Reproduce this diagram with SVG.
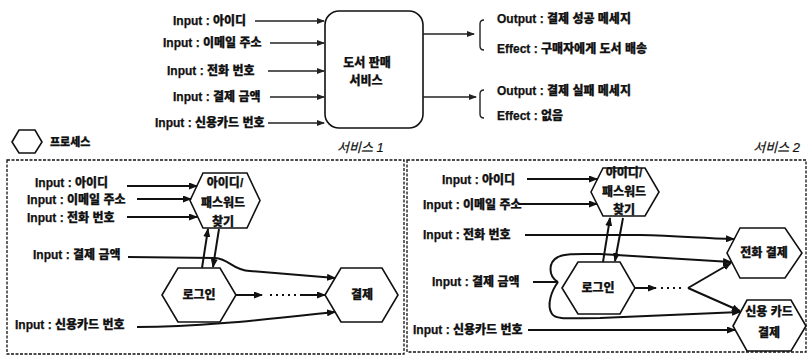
<svg xmlns="http://www.w3.org/2000/svg" width="808" height="357" viewBox="0 0 808 357">
<style>
text{font-family:"Liberation Sans","Noto Sans CJK KR",sans-serif;font-weight:900;font-size:12px;fill:#111;stroke:#111;stroke-width:0.25}
.c{text-anchor:middle}
.it{font-style:italic;font-weight:normal;font-size:13px;stroke-width:0.2}
.hex{fill:#fff;stroke:#111;stroke-width:1.6}
.box{fill:#fff;stroke:#111;stroke-width:1.6}
.dash{fill:none;stroke:#111;stroke-width:1.3;stroke-dasharray:3 1.5}
.a1{fill:none;stroke:#222;stroke-width:1.4;marker-end:url(#ah1)}
.a2{fill:none;stroke:#111;stroke-width:2;marker-end:url(#ah2)}
.ln{fill:none;stroke:#111;stroke-width:2}
.dots{fill:none;stroke:#111;stroke-width:2;stroke-dasharray:2 4}
.br{fill:none;stroke:#222;stroke-width:1.4}
</style>
<defs>
<marker id="ah1" markerUnits="userSpaceOnUse" markerWidth="8" markerHeight="6" refX="7" refY="3" orient="auto"><path d="M0,0 L8,3 L0,6 z" fill="#222"/></marker>
<marker id="ah2" markerUnits="userSpaceOnUse" markerWidth="9" markerHeight="7" refX="8" refY="3.5" orient="auto"><path d="M0,0 L9,3.5 L0,7 z" fill="#111"/></marker>
</defs>
<rect width="808" height="357" fill="#fff"/>

<!-- top section -->
<g id="top-inputs">
<text x="173" y="25">Input : 아이디</text>
<text x="163" y="47">Input : 이메일 주소</text>
<text x="167" y="75">Input : 전화 번호</text>
<text x="173" y="101">Input : 결제 금액</text>
<text x="155" y="127">Input : 신용카드 번호</text>
</g>
<g id="service">
<rect class="box" x="325" y="11" width="98" height="117" rx="14"/>
<text class="c" x="367" y="67">도서 판매</text>
<text class="c" x="366" y="85">서비스</text>
</g>
<g id="outputs">
<path class="br" d="M484,20 Q480,20 480,24 L480,46 Q480,50 484,50"/>
<path class="br" d="M484,90 Q480,90 480,94 L480,114 Q480,118 484,118"/>
<text x="497" y="23">Output : 결제 성공 메세지</text>
<text x="497" y="53">Effect : 구매자에게 도서 배송</text>
<text x="497" y="95">Output : 결제 실패 메세지</text>
<text x="497" y="120">Effect : 없음</text>
</g>

<!-- legend and titles -->
<g id="legend">
<polygon class="hex" points="12,142 19,130 35,130 42,142 35,153 19,153"/>
<text x="50" y="146" style="font-size:11px">프로세스</text>
</g>
<text class="it" x="337" y="152">서비스 1</text>
<text class="it" x="800" y="152" text-anchor="end">서비스  2</text>

<rect class="dash" x="7" y="160" width="397" height="194"/>
<rect class="dash" x="407" y="160" width="399" height="192"/>

<!-- service 1 -->
<g id="s1-inputs">
<text x="35" y="187">Input : 아이디</text>
<text x="27" y="204">Input : 이메일 주소</text>
<text x="27" y="222">Input : 전화 번호</text>
<text x="33" y="259">Input : 결제 금액</text>
<text x="15" y="329">Input : 신용카드 번호</text>
</g>
<g id="s1-find">
<polygon class="hex" points="190,200.5 203,173 247,173 260,200.5 247,228 203,228"/>
<text class="c" x="225" y="187">아이디/</text>
<text class="c" x="223" y="207">패스워드</text>
<text class="c" x="223" y="226">찾기</text>
</g>
<g id="s1-login">
<polygon class="hex" points="162,295 178,268 220,268 236,295 220,322 178,322"/>
<text class="c" x="199" y="299">로그인</text>
</g>
<g id="s1-pay">
<polygon class="hex" points="325,295 341,268 382,268 398,295 382,322 341,322"/>
<text class="c" x="362" y="299">결제</text>
</g>

<!-- service 2 -->
<g id="s2-inputs">
<text x="442" y="184">Input : 아이디</text>
<text x="423" y="209">Input : 이메일 주소</text>
<text x="423" y="239">Input : 전화 번호</text>
<text x="432" y="286">Input : 결제 금액</text>
<text x="413" y="334">Input : 신용카드 번호</text>
</g>
<g id="s2-find">
<polygon class="hex" points="591,192 603,168 645,168 659,192 645,216 603,216"/>
<text class="c" x="624" y="177">아이디/</text>
<text class="c" x="624" y="196">패스워드</text>
<text class="c" x="624" y="214">찾기</text>
</g>
<g id="s2-login">
<polygon class="hex" points="562,288 578,262 620,262 635,288 620,314 578,314"/>
<text class="c" x="598" y="292">로그인</text>
</g>
<g id="s2-phonepay">
<polygon class="hex" points="727,253 740,228 785,228 802,253 785,278 740,278"/>
<text class="c" x="764" y="257">전화 결제</text>
</g>
<g id="s2-cardpay">
<polygon class="hex" points="733,326 747,300 791,300 806,326 791,351 747,351"/>
<text class="c" x="769" y="316">신용 카드</text>
<text class="c" x="769" y="337">결제</text>
</g>

<g id="connectors">
<!-- top -->
<line class="a1" x1="255" y1="21" x2="324" y2="21"/>
<line class="a1" x1="270" y1="43" x2="324" y2="43"/>
<line class="a1" x1="268" y1="71" x2="324" y2="71"/>
<line class="a1" x1="270" y1="97" x2="324" y2="97"/>
<line class="a1" x1="268" y1="123" x2="324" y2="123"/>
<line class="a1" x1="423" y1="34" x2="474" y2="34"/>
<line class="a1" x1="423" y1="97" x2="476" y2="97"/>
<!-- service 1 -->
<line class="a2" x1="127" y1="186" x2="197" y2="186"/>
<line class="a2" x1="137" y1="199" x2="191" y2="199"/>
<line class="a2" x1="127" y1="217" x2="197" y2="217"/>
<line class="a2" x1="202" y1="268" x2="208" y2="229"/>
<line class="a2" x1="219" y1="229" x2="213" y2="267"/>
<path class="a2" d="M128,257 L215,258 C230,259 232,270 250,271 L335,278"/>
<line class="a2" x1="236" y1="295" x2="262" y2="295"/>
<line class="dots" x1="270" y1="295" x2="297" y2="295"/>
<line class="a2" x1="300" y1="295" x2="325" y2="295"/>
<path class="a2" d="M137,327 C200,327 260,320 335,312"/>
<!-- service 2 -->
<line class="a2" x1="527" y1="179" x2="597" y2="179"/>
<line class="a2" x1="518" y1="204" x2="597" y2="204"/>
<path class="a2" d="M525,235 L640,235 C680,236 700,238 734,239"/>
<line class="a2" x1="603" y1="262" x2="610" y2="218"/>
<line class="a2" x1="623" y1="218" x2="615" y2="261"/>
<line class="ln" x1="533" y1="282" x2="558" y2="282"/>
<path class="a2" d="M558,282 C548,276 548,262 558,257 C565,253 580,254 600,254 L731,262"/>
<path class="a2" d="M558,282 C552,290 546,305 552,314 C556,320 570,318 600,318 L740,312"/>
<line class="a2" x1="635" y1="288" x2="656" y2="288"/>
<line class="dots" x1="661" y1="288" x2="682" y2="288"/>
<line class="a2" x1="688" y1="288" x2="731" y2="263"/>
<line class="a2" x1="688" y1="288" x2="740" y2="311"/>
<line class="a2" x1="528" y1="330" x2="735" y2="330"/>
</g>
</svg>
